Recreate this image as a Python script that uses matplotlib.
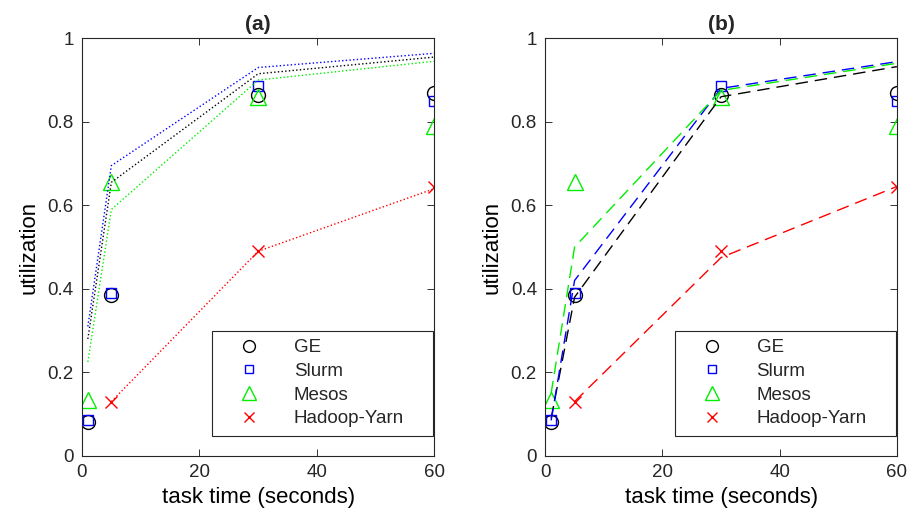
import numpy as np
import matplotlib
matplotlib.use("Agg")
import matplotlib.pyplot as plt

plt.rcParams['font.family'] = ['Liberation Sans', 'DejaVu Sans']
plt.rcParams['text.color'] = '#262626'

# measured utilization (markers)
t_all = [1, 5, 30, 60]
t_yarn = [5, 30, 60]
ge = [0.08, 0.385, 0.865, 0.87]
slurm = [0.085, 0.39, 0.885, 0.85]
mesos = [0.135, 0.655, 0.86, 0.79]
yarn = [0.13, 0.49, 0.645]

# model curves, panel (a) dotted
a_ge = [0.28, 0.655, 0.915, 0.955]
a_slurm = [0.31, 0.695, 0.93, 0.964]
a_mesos = [0.225, 0.59, 0.90, 0.945]
a_yarn = [0.13, 0.49, 0.64]

# model curves, panel (b) dashed
b_ge = [0.09, 0.38, 0.86, 0.932]
b_slurm = [0.085, 0.42, 0.88, 0.944]
b_mesos = [0.15, 0.50, 0.875, 0.94]
b_yarn = [0.13, 0.475, 0.645]

names = ['GE', 'Slurm', 'Mesos', 'Hadoop-Yarn']
colors = ['black', 'blue', '#00ee00', 'red']
markers = ['o', 's', '^', 'x']
msizes = [10, 7, 12, 8]

fig = plt.figure(figsize=(9.18, 5.24), dpi=100)
ax1 = fig.add_axes([0.0893, 0.130, 0.384, 0.797])
ax2 = fig.add_axes([0.594, 0.130, 0.383, 0.797])

meas = [(t_all, ge), (t_all, slurm), (t_all, mesos), (t_yarn, yarn)]
fits_a = [(t_all, a_ge), (t_all, a_slurm), (t_all, a_mesos), (t_yarn, a_yarn)]
fits_b = [(t_all, b_ge), (t_all, b_slurm), (t_all, b_mesos), (t_yarn, b_yarn)]

for ax, fits, ls, title in [(ax1, fits_a, ':', '(a)'),
                             (ax2, fits_b, (0, (9, 5)), '(b)')]:
    handles = []
    for i in range(4):
        h, = ax.plot(meas[i][0], meas[i][1], linestyle='none', marker=markers[i],
                     ms=msizes[i], mfc='none', mec=colors[i], mew=1.0,
                     label=names[i])
        handles.append(h)
    for i in range(4):
        ax.plot(fits[i][0], fits[i][1], linestyle=ls, color=colors[i], lw=1.0)
    ax.set_xlim(0, 60)
    ax.set_ylim(0, 1)
    ax.set_xticks([0, 20, 40, 60])
    ax.set_yticks([0, 0.2, 0.4, 0.6, 0.8, 1])
    ax.set_yticklabels(['0', '0.2', '0.4', '0.6', '0.8', '1'])
    ax.tick_params(direction='in', top=True, right=True, labelsize=13.5,
                   length=5, width=0.7, color='#333333', labelcolor='#262626',
                   pad=6)
    for s in ax.spines.values():
        s.set_linewidth(0.8)
        s.set_color('#262626')
    ax.set_xlabel('task time (seconds)', fontsize=16, labelpad=4)
    ax.set_ylabel('utilization', fontsize=16, labelpad=6)
    ax.set_title(title, fontsize=15, fontweight='bold', pad=6)
    leg = ax.legend(handles=handles, loc='lower left', fontsize=13.5,
                    bbox_to_anchor=(0.369, 0.048, 0.628, 0.246), mode='expand',
                    fancybox=False, edgecolor='#262626', framealpha=1,
                    handletextpad=0.9, borderpad=0.45, labelspacing=0.35,
                    handlelength=3.0, borderaxespad=0.0, markerscale=0.85)
    leg.get_frame().set_linewidth(0.8)

fig.savefig('out.png', dpi=100)
